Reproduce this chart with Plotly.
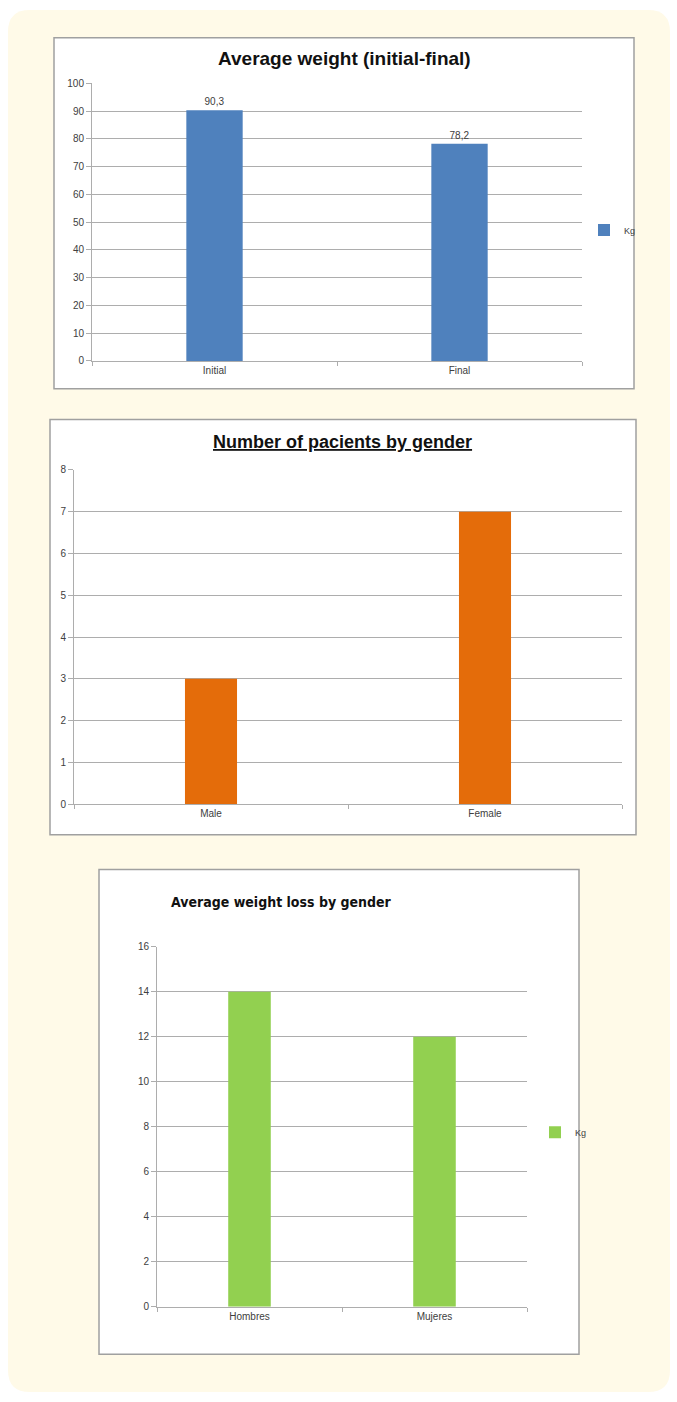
import plotly.graph_objects as go

W, H = 677, 1402

# ---- data ----
weight_categories = ["Initial", "Final"]
weight_values = [90.3, 78.2]
weight_labels = ["90,3", "78,2"]

gender_categories = ["Male", "Female"]
gender_counts = [3, 7]

loss_categories = ["Hombres", "Mujeres"]
loss_values = [14, 12]

series_name = "Kg"

# ---- styling ----
CREAM = "#FFFAE8"
GRID = "#ADADAD"
BORDER = "#A0A0A0"
TXT = "#404040"
FONT = "Liberation Sans, Arial, sans-serif"
NARROW = "DejaVu Sans Condensed, Liberation Sans, sans-serif"


def xd(a, b):
    return [a / W, b / W]


def yd(top, bottom):
    return [1 - bottom / H, 1 - top / H]


fig = go.Figure()

fig.add_trace(go.Bar(
    x=weight_categories, y=weight_values, name=series_name,
    marker=dict(color="#4F81BD", line=dict(width=0)),
    text=weight_labels, textposition="outside", cliponaxis=False,
    textfont=dict(size=10, color=TXT, family=FONT),
    xaxis="x", yaxis="y", legend="legend", showlegend=True,
))
fig.add_trace(go.Bar(
    x=gender_categories, y=gender_counts, name=series_name,
    marker=dict(color="#E46C0A", line=dict(width=0)),
    xaxis="x2", yaxis="y2", showlegend=False,
))
fig.add_trace(go.Bar(
    x=loss_categories, y=loss_values, name=series_name,
    marker=dict(color="#92D050", line=dict(width=0)),
    xaxis="x3", yaxis="y3", legend="legend2", showlegend=True,
))


def xaxis(domain, anchor):
    return dict(domain=domain, anchor=anchor, type="category", range=[-0.5, 1.5],
                showline=True, linecolor=GRID, linewidth=1,
                ticks="outside", tickson="boundaries", ticklen=4, tickcolor=GRID,
                showgrid=False, zeroline=False,
                tickfont=dict(size=10, color=TXT, family=FONT), fixedrange=True)


def yaxis(domain, anchor, rng, dtick):
    return dict(domain=domain, anchor=anchor, range=rng, dtick=dtick, tick0=0,
                showline=True, linecolor=GRID, linewidth=1,
                ticks="outside", ticklen=5, tickcolor=GRID,
                showgrid=True, gridcolor=GRID, gridwidth=1, zeroline=False,
                tickfont=dict(size=10, color=TXT, family=FONT), fixedrange=True)


shapes = [
    dict(type="path", xref="paper", yref="paper", layer="below",
         path=("M {a},{t} L {b},{t} Q {r},{t} {r},{tt} L {r},{bb} Q {r},{bo} {b},{bo} "
               "L {a},{bo} Q {l},{bo} {l},{bb} L {l},{tt} Q {l},{t} {a},{t} Z").format(
             l=8 / W, r=670 / W, a=30 / W, b=648 / W,
             t=1 - 4 / H, tt=1 - 26 / H, bo=1 - 1398 / H, bb=1 - 1376 / H),
         fillcolor=CREAM, line=dict(width=0)),
]
for (l, t, r, b) in [(54, 32, 634, 386), (50, 417, 636, 836), (99, 871, 579, 1360)]:
    shapes.append(dict(type="rect", xref="paper", yref="paper", layer="below",
                       x0=l / W, x1=r / W, y0=1 - b / H, y1=1 - t / H,
                       fillcolor="white", line=dict(color=BORDER, width=1.5)))

annotations = [
    dict(text="<b>Average weight (initial-final)</b>", xref="paper", yref="paper",
         x=344 / W, y=1 - 53 / H, xanchor="center", yanchor="middle", showarrow=False,
         font=dict(size=19, color="#111111", family=FONT)),
    dict(text="<b><u>Number of pacients by gender</u></b>", xref="paper", yref="paper",
         x=342 / W, y=1 - 440 / H, xanchor="center", yanchor="middle", showarrow=False,
         font=dict(size=18, color="#111111", family=FONT)),
    dict(text="<b>Average weight loss by gender</b>", xref="paper", yref="paper",
         x=169 / W, y=1 - 904 / H, xanchor="left", yanchor="middle", showarrow=False,
         font=dict(size=14, color="#111111", family=NARROW)),
]

fig.update_layout(
    width=W, height=H, margin=dict(l=0, r=0, t=0, b=0),
    paper_bgcolor="white", plot_bgcolor="rgba(0,0,0,0)",
    bargap=0.77,
    xaxis=xaxis(xd(92, 582), "y"),
    yaxis=yaxis(yd(78, 358), "x", [0, 100], 10),
    xaxis2=xaxis(xd(74, 622), "y2"),
    yaxis2=yaxis(yd(468, 805), "x2", [0, 8], 1),
    xaxis3=xaxis(xd(157, 527), "y3"),
    yaxis3=yaxis(yd(949, 1312), "x3", [0, 16], 2),
    legend=dict(x=584 / W, y=1 - 226 / H, xanchor="left", yanchor="middle",
                bgcolor="rgba(0,0,0,0)", font=dict(size=9, color=TXT, family=FONT),
                itemwidth=30, tracegroupgap=0),
    legend2=dict(x=535 / W, y=1 - 1136 / H, xanchor="left", yanchor="middle",
                 bgcolor="rgba(0,0,0,0)", font=dict(size=9, color=TXT, family=FONT),
                 itemwidth=30, tracegroupgap=0),
    shapes=shapes, annotations=annotations,
    showlegend=True,
)
fig.update_traces(selector=dict(xaxis="x2"), width=0.19)

fig.write_html("out.html", config={"displayModeBar": False},
               post_script="document.body.style.margin='0px';")
